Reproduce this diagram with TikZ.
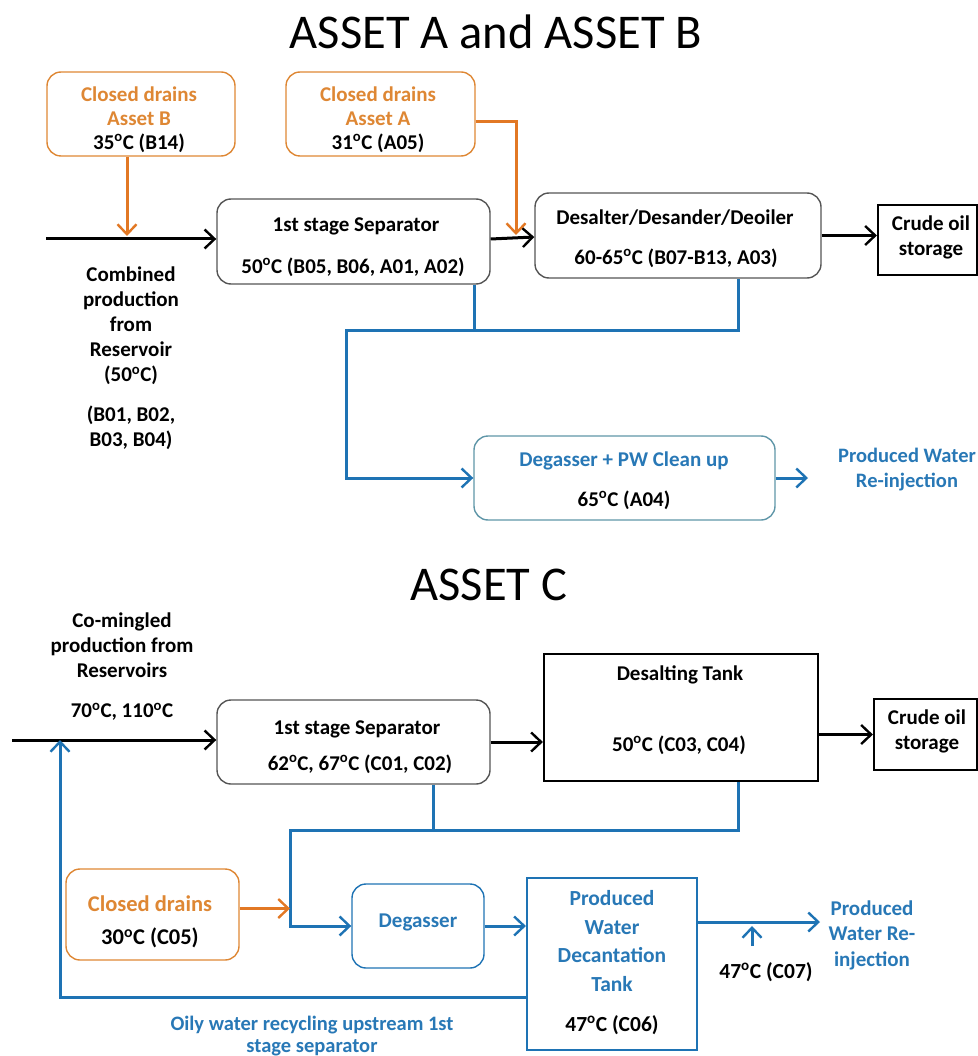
\documentclass[tikz,border=0pt]{standalone}
\usepackage{fontspec}
\setmainfont{Carlito}
\usetikzlibrary{arrows.meta}
\definecolor{orng}{RGB}{226,120,36}
\definecolor{orngtxt}{RGB}{222,135,52}
\definecolor{pblue}{RGB}{30,115,180}
\definecolor{btxt}{RGB}{40,120,182}
\definecolor{tealb}{RGB}{95,150,168}
\definecolor{grayb}{RGB}{85,85,85}
\newcommand{\mydeg}{\textsuperscript{o}}
\begin{document}
\begin{tikzpicture}[x=1pt,y=-1pt,
  txt/.style={font=\fontsize{21}{25}\selectfont\bfseries, inner sep=0pt, align=center},
  otxt/.style={txt, text=orngtxt},
  btx/.style={txt, text=btxt},
  ttl/.style={font=\fontsize{48.5}{52}\selectfont, inner sep=0pt},
  rbox/.style={draw=grayb, line width=1.4pt, rounded corners=14pt, inner sep=0pt},
  obox/.style={rbox, draw=orngtxt},
  tbox/.style={rbox, draw=tealb},
  sbox/.style={draw=black, line width=2.2pt, inner sep=0pt},
  bsbox/.style={draw=pblue, line width=2.2pt, inner sep=0pt},
  tip/.style={-{Straight Barb[length=10pt,width=19pt,line width=2.4pt]}},
  blk/.style={line width=3pt, black, tip},
  oarr/.style={line width=3pt, orng, tip},
  bline/.style={line width=3pt, pblue},
  barr/.style={bline, tip}
]
\useasboundingbox (0,0) rectangle (977,1056);

% ================= ASSET A and ASSET B =================
\node[ttl] (t1) at (496,32) {ASSET A and ASSET B};

\node[obox, minimum width=188pt, minimum height=84pt] (cdB) at (141,114) {};
\node[otxt] (cdB1) at (139,94) {Closed drains};
\node[otxt] (cdB2) at (139,119) {Asset B};
\node[txt] (cdB3) at (139,143) {35\mydeg C (B14)};

\node[obox, minimum width=189pt, minimum height=84pt] (cdA) at (380.5,114) {};
\node[otxt] (cdA1) at (378,94) {Closed drains};
\node[otxt] (cdA2) at (378,119) {Asset A};
\node[txt] (cdA3) at (378,143) {31\mydeg C (A05)};

\node[rbox, minimum width=273pt, minimum height=85pt] (sepA) at (353.5,241.5) {};
\node[txt] (sepA1) at (356,226) {1st stage Separator};
\node[txt] (sepA2) at (353,267) {50\mydeg C (B05, B06, A01, A02)};

\node[rbox, minimum width=286pt, minimum height=85pt] (desal) at (678,235.5) {};
\node[txt] (desal1) at (675,218) {Desalter/Desander/Deoiler};
\node[txt] (desal2) at (676,258) {60-65\mydeg C (B07-B13, A03)};

\node[sbox, minimum width=99pt, minimum height=70pt] (crudeA) at (927.5,240) {};
\node[txt] (crudeA1) at (931,237) {Crude oil\\storage};

\node[tbox, minimum width=301pt, minimum height=84pt] (pwA) at (624.5,478) {};
\node[btx] (pwA1) at (624,461) {Degasser + PW Clean up};
\node[txt] (pwA2) at (624,500) {65\mydeg C (A04)};

\node[btx, font=\fontsize{20.5}{25}\selectfont\bfseries] (pwAo) at (907,470) {Produced Water\\Re-injection};

\node[txt] (combA) at (131,326)
  {Combined\\production\\from\\Reservoir\\(50\mydeg C)};
\node[txt] (combB) at (131,428) {(B01, B02,\\B03, B04)};

% connectors A/B
\coordinate (inA) at (46,239);
\draw[blk] (inA) -- (inA -| sepA.west);
\coordinate (jB) at (127,236);
\draw[oarr] (jB |- cdB.south) -- (jB);
\draw[blk] ([yshift=2.5pt]sepA.east) -- ([yshift=-1.5pt]desal.west);
\coordinate (jA) at (516,235);
\draw[oarr] ([yshift=-8pt]cdA.east) -| (jA);
\draw[blk] (desal.east) -- (desal.east -| crudeA.west);
\coordinate (b1) at (474,330);
\coordinate (b2) at (738,330);
\coordinate (b3) at (346,330);
\draw[bline] (b1 |- sepA.south) -- (b1);
\draw[barr] (b2 |- desal.south) -- (b2) -- (b3) |- (pwA.west);
\coordinate (pwAout) at (808,478);
\draw[barr] (pwA.east) -- (pwAout);

% ================= ASSET C =================
\node[ttl] (t2) at (489,585) {ASSET C};

\node[txt] (comC) at (122,645) {Co-mingled\\production from\\Reservoirs};
\node[txt] (comC2) at (122,712) {70\mydeg C, 110\mydeg C};

\node[rbox, minimum width=273pt, minimum height=84pt] (sepC) at (353.5,742) {};
\node[txt] (sepC1) at (357,729) {1st stage Separator};
\node[txt] (sepC2) at (360,764) {62\mydeg C, 67\mydeg C (C01, C02)};

\node[sbox, minimum width=274pt, minimum height=127pt] (dtank) at (681,717.5) {};
\node[txt] (dtank1) at (680,675) {Desalting Tank};
\node[txt] (dtank2) at (679,745) {50\mydeg C (C03, C04)};

\node[sbox, minimum width=103pt, minimum height=71pt] (crudeC) at (925.5,734.5) {};
\node[txt] (crudeC1) at (927,731) {Crude oil\\storage};

\node[obox, minimum width=173pt, minimum height=91pt] (cdC) at (152.5,914.5) {};
\node[otxt, font=\fontsize{22.5}{26}\selectfont\bfseries] (cdC1) at (150,904) {Closed drains};
\node[txt, font=\fontsize{22.5}{26}\selectfont\bfseries] (cdC2) at (150,938) {30\mydeg C (C05)};

\node[tbox, draw=pblue, minimum width=132pt, minimum height=84pt] (degC) at (418,926) {};
\node[btx] (degC1) at (418,922) {Degasser};

\node[bsbox, minimum width=170pt, minimum height=172pt] (pwt) at (612,964) {};
\node[btx, font=\fontsize{21.5}{28.7}\selectfont\bfseries] (pwt1) at (612,941) {Produced\\Water\\Decantation\\Tank};
\node[txt, font=\fontsize{21.5}{26}\selectfont\bfseries] (pwt2) at (612,1025) {47\mydeg C (C06)};

\node[btx, font=\fontsize{21}{25.5}\selectfont\bfseries] (pwCo) at (872,935) {Produced\\Water Re-\\injection};
\node[txt, font=\fontsize{21.5}{26}\selectfont\bfseries] (c07) at (766,972) {47\mydeg C (C07)};

\node[btx, font=\fontsize{20.5}{22.5}\selectfont\bfseries] (oily) at (312,1036) {Oily water recycling upstream 1st\\stage separator};

% connectors C
\coordinate (inC) at (12,740);
\draw[blk] (inC) -- (inC -| sepC.west);
\draw[blk] (sepC.east) -- (sepC.east -| dtank.west);
\draw[blk] (crudeC.west -| dtank.east) -- (crudeC.west);
\coordinate (c1) at (433,830);
\coordinate (c2) at (738,830);
\coordinate (c3) at (290,830);
\draw[bline] (c1 |- sepC.south) -- (c1);
\draw[barr] (c2 |- dtank.south) -- (c2) -- (c3) |- (degC.west);
\draw[oarr] ([yshift=6pt]cdC.east) -- ([yshift=6pt]cdC.east -| c3);
\draw[barr] (degC.east) -- (degC.east -| pwt.west);
\coordinate (pwCout) at (820,922);
\draw[barr] (pwCout -| pwt.east) -- (pwCout);
\coordinate (t7) at (752,946);
\draw[barr] (t7) -- ++(0,-20);
\coordinate (rc) at (60,997);
\draw[barr] (rc -| pwt.west) -- (rc) -- (rc |- inC);
\end{tikzpicture}
\end{document}
